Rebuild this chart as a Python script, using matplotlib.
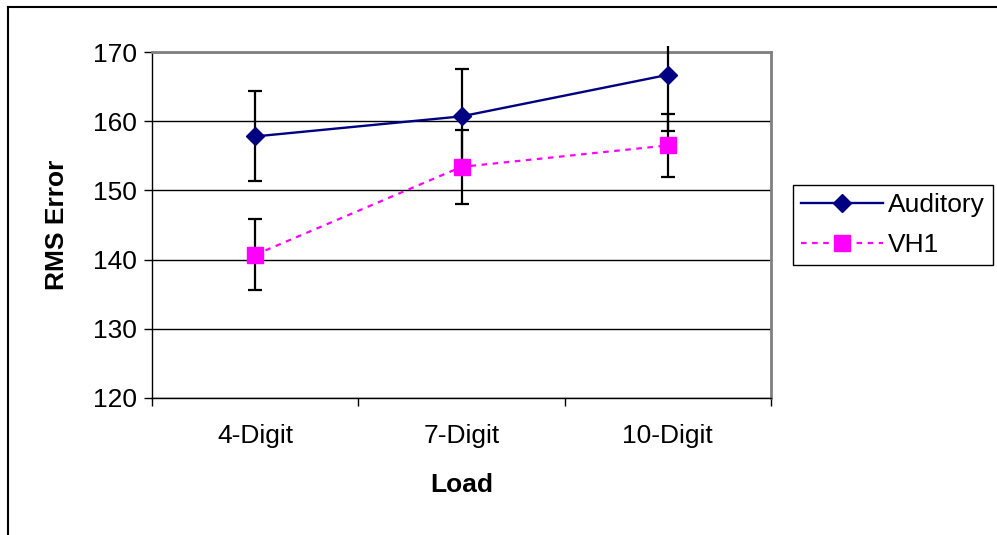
import matplotlib
matplotlib.use("Agg")
import matplotlib.pyplot as plt
from matplotlib.lines import Line2D
from matplotlib.patches import Rectangle
from matplotlib.ticker import FixedLocator, MultipleLocator

plt.rcParams['font.family'] = ['Liberation Sans', 'DejaVu Sans']

# дані
loads = ["4-Digit", "7-Digit", "10-Digit"]
auditory = [157.8, 160.7, 166.7]
auditory_err = [6.5, 6.9, 8.1]
vh1 = [140.7, 153.4, 156.5]
vh1_err = [5.1, 5.4, 4.5]

fig = plt.figure(figsize=(9.97, 5.35), dpi=100)
ax = fig.add_axes([0.1525, 0.2561, 0.6208, 0.6467])

x = list(range(len(loads)))
clip_box = Rectangle((0, 0), 1, 1.018, transform=ax.transAxes, facecolor='none', edgecolor='none')

# похибки
for vals, errs in [(auditory, auditory_err), (vh1, vh1_err)]:
    eb = ax.errorbar(x, vals, yerr=errs, fmt='none', ecolor='black', elinewidth=1.6,
                     capsize=5, capthick=1.6, zorder=3)
    for art in list(eb[1]) + list(eb[2]):
        art.set_clip_path(clip_box)

# лінії
ax.plot(x, auditory, color='#000080', lw=1.7, marker='D', markersize=9,
        label='Auditory', zorder=4)
ax.plot(x, vh1, color='#FF00FF', lw=1.6, linestyle=(0, (2.5, 2.5)), marker='s',
        markersize=11, markeredgecolor='#FF00FF', label='VH1', zorder=4)

ax.set_xlim(-0.5, 2.5)
ax.set_ylim(120, 170)
ax.yaxis.set_major_locator(MultipleLocator(10))
ax.grid(axis='y', color='black', lw=1, zorder=1)
ax.set_axisbelow(True)

ax.set_xticks(x)
ax.set_xticklabels(loads, fontsize=19)
ax.xaxis.set_minor_locator(FixedLocator([-0.5, 0.5, 1.5, 2.5]))
ax.tick_params(axis='x', which='major', length=0, pad=19)
ax.tick_params(axis='x', which='minor', length=6, width=1, direction='out')
ax.tick_params(axis='y', length=6, width=1, direction='out', labelsize=19, pad=5)

for s in ['top', 'right']:
    ax.spines[s].set_color('#808080')
    ax.spines[s].set_linewidth(2)
for s in ['left', 'bottom']:
    ax.spines[s].set_color('black')
    ax.spines[s].set_linewidth(1)

ax.set_xlabel("Load", fontsize=19, fontweight='bold', labelpad=18)
ax.set_ylabel("RMS Error", fontsize=19, fontweight='bold', labelpad=17)

leg = fig.legend(loc='center left', bbox_to_anchor=(793 / 997, 1 - 225 / 535),
                 fontsize=19, frameon=True, fancybox=False, framealpha=1,
                 edgecolor='black', handlelength=3.1, borderpad=0.3,
                 labelspacing=0.6, handletextpad=0.2, borderaxespad=0)
leg.get_frame().set_linewidth(1)

# зовнішня рамка
fig.add_artist(Line2D([8 / 997, 1], [1 - 7 / 535, 1 - 7 / 535], color='black', lw=1.5))
fig.add_artist(Line2D([8 / 997, 8 / 997], [0, 1 - 7 / 535], color='black', lw=1.5))

fig.savefig("out.png", dpi=100)
